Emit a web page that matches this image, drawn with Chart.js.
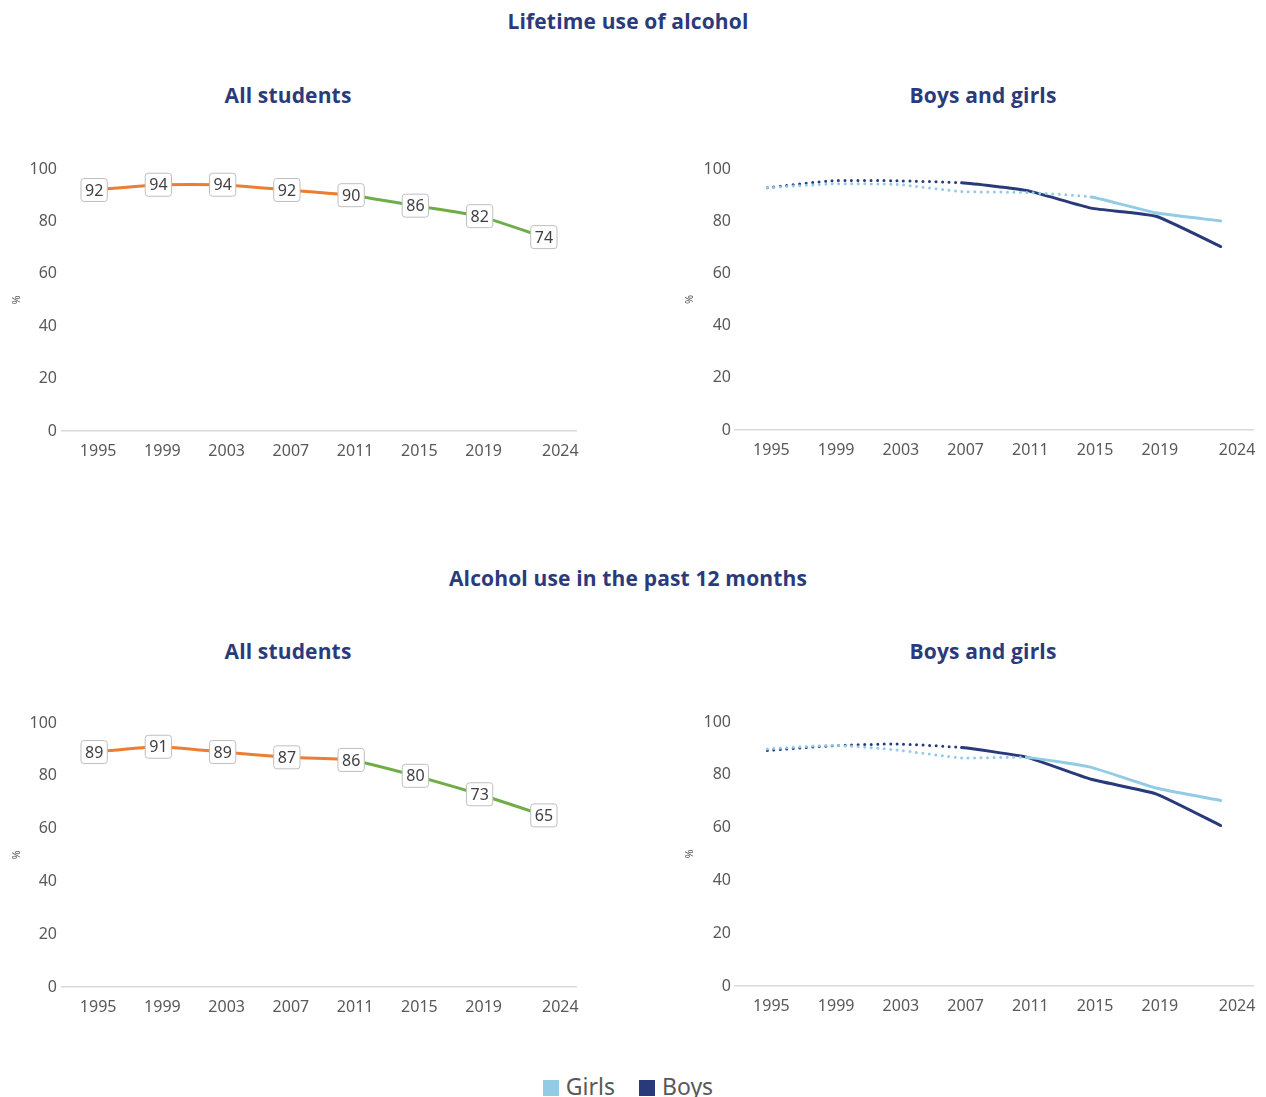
<!DOCTYPE html>
<html>
<head>
<meta charset="utf-8">
<script src="https://cdn.jsdelivr.net/npm/chart.js@4.4.1/dist/chart.umd.min.js"></script>
<style>
  html, body { margin: 0; padding: 0; background: #fff; }
  body { width: 1266px; height: 1097px; position: relative; overflow: hidden; font-family: "Noto Sans", sans-serif; }
  .title { position: absolute; transform: translateX(-50%); white-space: nowrap; color: #2b3a7b; font-family: "Open Sans", sans-serif; font-weight: 700; font-size: 21px; letter-spacing: 0.15px; line-height: 24px; }
  .panel { position: absolute; }
  .panel canvas { display: block; }
  .legend { position: absolute; left: -5px; top: 1071px; width: 1266px; text-align: center; font-size: 23px; color: #595959; line-height: 30px; }
  .legend span.item { display: inline-flex; align-items: center; margin: 0 9px; }
  .legend i { display: inline-block; width: 16px; height: 16px; margin-right: 7px; margin-top: 4px; }
</style>
</head>
<body>

<div class="title" style="left:628px; top:9px;">Lifetime use of alcohol</div>
<div class="title" style="left:288px; top:83px;">All students</div>
<div class="title" style="left:983px; top:83px;">Boys and girls</div>
<div class="title" style="left:628px; top:566px;">Alcohol use in the past 12 months</div>
<div class="title" style="left:288px; top:639px;">All students</div>
<div class="title" style="left:983px; top:639px;">Boys and girls</div>

<div class="panel" style="left:0px; top:150px; width:600px; height:320px;"><canvas id="lifeAll"></canvas></div>
<div class="panel" style="left:680px; top:150px; width:586px; height:320px;"><canvas id="lifeSex"></canvas></div>
<div class="panel" style="left:0px; top:700px; width:600px; height:330px;"><canvas id="yearAll"></canvas></div>
<div class="panel" style="left:680px; top:700px; width:586px; height:330px;"><canvas id="yearSex"></canvas></div>

<div class="legend">
  <span class="item"><i style="background:#92cbe6"></i>Girls</span>
  <span class="item"><i style="background:#283a7a"></i>Boys</span>
</div>

<script>
// Survey years
const years = ['1995', '1999', '2003', '2007', '2011', '2015', '2019', '2024'];
const yTicks = [0, 20, 40, 60, 80, 100];

// Lifetime use of alcohol (%)
const lifetimeAll   = [92, 94, 94, 92, 90, 86, 82, 74];
const lifetimeGirls = [92.8, 94.3, 94.1, 91.4, 91.0, 89.3, 83.2, 80.1];
const lifetimeBoys  = [92.8, 95.5, 95.5, 94.7, 91.8, 85.0, 81.9, 70.3];

// Alcohol use in the past 12 months (%)
const pastYearAll   = [89, 91, 89, 87, 86, 80, 73, 65];
const pastYearGirls = [89.8, 91.2, 89.4, 86.4, 86.6, 82.8, 75.0, 70.3];
const pastYearBoys  = [89.2, 91.0, 91.7, 90.3, 86.7, 78.3, 72.8, 60.8];

const ORANGE = '#ed7d31';
const GREEN = '#70ad47';
const GIRLS = '#92cbe6';
const BOYS = '#283a7a';
const TEXT = '#595959';
const DOTS = [0, 6.5];

Chart.defaults.font.family = '"Noto Sans", sans-serif';
Chart.defaults.color = TEXT;

// Boxed value labels drawn on each point of the first dataset
const valueBoxes = {
  id: 'valueBoxes',
  afterDatasetsDraw(chart, args, opts) {
    if (!opts || !opts.show) return;
    const ctx = chart.ctx;
    const meta = chart.getDatasetMeta(0);
    const data = chart.data.datasets[0].data;
    ctx.save();
    ctx.font = '16px "Noto Sans", sans-serif';
    ctx.textAlign = 'center';
    ctx.textBaseline = 'middle';
    meta.data.forEach((pt, i) => {
      const txt = String(data[i]);
      const w = ctx.measureText(txt).width + 8;
      const h = 23;
      const x = pt.x, y = pt.y;
      ctx.beginPath();
      ctx.roundRect(x - w / 2, y - h / 2, w, h, 3);
      ctx.fillStyle = '#ffffff';
      ctx.fill();
      ctx.lineWidth = 1;
      ctx.strokeStyle = '#bfbfbf';
      ctx.stroke();
      ctx.fillStyle = '#404040';
      ctx.fillText(txt, x, y + 1);
    });
    ctx.restore();
  }
};

// The final year label sits flush with the right end of the axis
const yearLabel = (value, index) =>
  index === years.length - 1 ? '      ' + years[index] : years[index];

function scales(yWidth, xHeight, tickPad, titlePad) {
  return {
    x: {
      offset: true,
      grid: { display: false, drawTicks: false },
      border: { display: true, color: '#d9d9d9', width: 1.5 },
      ticks: { font: { size: 16 }, color: TEXT, padding: 11, labelOffset: 4, maxRotation: 0, autoSkip: false, callback: yearLabel },
      afterFit: s => { s.height = xHeight; }
    },
    y: {
      min: 0, max: 100,
      afterBuildTicks: s => { s.ticks = yTicks.map(v => ({ value: v })); },
      grid: { display: false, drawTicks: false },
      border: { display: false },
      ticks: { font: { size: 16 }, color: TEXT, padding: tickPad },
      title: { display: true, text: '%', font: { size: 11 }, color: TEXT, padding: { top: titlePad, bottom: 0 } },
      afterFit: s => { s.width = yWidth; }
    }
  };
}

function allChart(id, values, pad, yWidth, xHeight) {
  new Chart(document.getElementById(id), {
    type: 'line',
    data: {
      labels: years,
      datasets: [{
        data: values,
        borderWidth: 3,
        pointRadius: 0,
        tension: 0.15,
        borderColor: ORANGE,
        segment: { borderColor: c => c.p0DataIndex < 4 ? ORANGE : GREEN }
      }]
    },
    options: {
      responsive: true, maintainAspectRatio: false, animation: false,
      layout: { padding: pad },
      plugins: { legend: { display: false }, tooltip: { enabled: false }, valueBoxes: { show: true } },
      scales: scales(yWidth, xHeight, 5, 10.4)
    },
    plugins: [valueBoxes]
  });
}

function sexChart(id, girls, boys, girlsDotted, boysDotted, pad, yWidth, xHeight) {
  const line = (vals, color, cut) => ({
    data: vals,
    borderColor: color,
    borderWidth: 3,
    borderCapStyle: 'round',
    borderJoinStyle: 'round',
    pointRadius: 0,
    tension: 0.15,
    segment: { borderDash: c => c.p0DataIndex < cut ? DOTS : [] }
  });
  new Chart(document.getElementById(id), {
    type: 'line',
    data: {
      labels: years,
      datasets: [
        Object.assign({ label: 'Girls' }, line(girls, GIRLS, girlsDotted)),
        Object.assign({ label: 'Boys' }, line(boys, BOYS, boysDotted))
      ]
    },
    options: {
      responsive: true, maintainAspectRatio: false, animation: false,
      layout: { padding: pad },
      plugins: { legend: { display: false }, tooltip: { enabled: false } },
      scales: scales(yWidth, xHeight, 4, 3.4)
    }
  });
}

allChart('lifeAll', lifetimeAll, { top: 19, right: 24, bottom: 0, left: 0 }, 62, 39);
sexChart('lifeSex', lifetimeGirls, lifetimeBoys, 5, 3, { top: 19, right: 13, bottom: 0, left: 0 }, 55, 40);
allChart('yearAll', pastYearAll, { top: 23, right: 24, bottom: 0, left: 0 }, 62, 43);
sexChart('yearSex', pastYearGirls, pastYearBoys, 4, 3, { top: 22, right: 13, bottom: 0, left: 0 }, 55, 44);
</script>
</body>
</html>
